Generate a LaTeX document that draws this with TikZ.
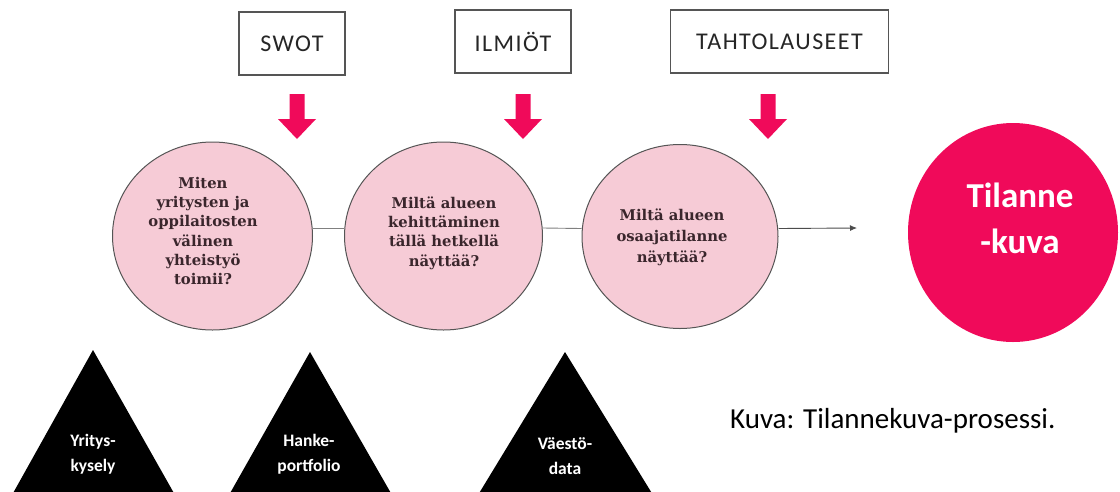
\documentclass[tikz,border=0pt]{standalone}
\usepackage{fontspec}
\setmainfont{DejaVu Serif}
\newfontfamily\calfont{Carlito}
\newfontfamily\calspfont{Carlito}[LetterSpace=6]
\usetikzlibrary{shapes.geometric,arrows.meta}
\definecolor{hotpink}{RGB}{240,10,90}
\definecolor{lightpink}{RGB}{246,203,214}
\definecolor{qtext}{RGB}{58,38,44}
\definecolor{rimgray}{RGB}{85,85,85}
\definecolor{linegray}{RGB}{128,128,128}
\tikzset{
  topbox/.style={draw=rimgray, line width=1.3pt, fill=white, inner sep=0pt,
    font=\calspfont\fontsize{24}{28}\selectfont, text=black!85},
  qcircle/.style={ellipse, draw=rimgray, line width=1pt, fill=lightpink, inner sep=0pt},
  qtextstyle/.style={align=center, text=qtext, inner sep=0pt,
    font=\bfseries\fontsize{14.8}{19.3}\selectfont},
  tritext/.style={align=center, text=white, inner sep=0pt,
    font=\calfont\bfseries\fontsize{17.5}{25}\selectfont},
  tri/.style={fill=black},
  link/.style={draw=linegray, line width=0.9pt},
  pinkarrow/.pic={\fill[hotpink] (-7.5,0) -- (7.5,0) -- (7.5,25) -- (19,25) -- (0,45) -- (-19,25) -- (-7.5,25) -- cycle;}
}
\begin{document}
\begin{tikzpicture}[x=1pt,y=-1pt]
\useasboundingbox[fill=white] (0,0) rectangle (1120,491);

% top boxes
\node[topbox, minimum width=106pt, minimum height=63pt] (swot) at (292,43.5) {SWOT};
\node[topbox, minimum width=116pt, minimum height=63pt] (ilmiot) at (513,41.5) {ILMIÖT};
\node[topbox, minimum width=218pt, minimum height=63pt] (tahto) at (779.5,41.5) {TAHTOLAUSEET};

% pink block arrows
\pic at (297,94) {pinkarrow};
\pic at (523,94) {pinkarrow};
\pic at (768,94) {pinkarrow};

% circles
\node[qcircle, minimum width=200pt, minimum height=188pt] (c1) at (212.5,236) {};
\node[qcircle, minimum width=198pt, minimum height=188pt] (c2) at (443.5,236) {};
\node[qcircle, minimum width=196pt, minimum height=184pt] (c3) at (680,236.5) {};
\node[ellipse, fill=hotpink, inner sep=0pt, minimum width=210pt, minimum height=219pt] (c4) at (1013,232.5) {};

% connectors
\draw[link] ([yshift=8pt]c1.east) -- ([yshift=8pt]c2.west);
\draw[link] ([yshift=8pt]c2.east) -- ([yshift=8pt]c3.west);
\coordinate (arrowend) at (857,228);
\draw[link, draw=black!70, -{Latex[length=7pt,width=6pt]}] ([yshift=8pt]c3.east) -- (arrowend);

% circle texts
\node[qtextstyle] (t1) at (203,231) {Miten\\yritysten ja\\oppilaitosten\\välinen\\yhteistyö\\toimii?};
\node[qtextstyle] (t2) at (444,233) {Miltä alueen\\kehittäminen\\tällä hetkellä\\näyttää?};
\node[qtextstyle, font=\bfseries\fontsize{14.8}{21}\selectfont] (t3) at (672,237) {Miltä alueen\\osaajatilanne\\näyttää?};
\node[align=center, text=white, inner sep=0pt, font=\calfont\bfseries\fontsize{35}{46}\selectfont] (t4) at (1020,218.5) {Tilanne\\-kuva};

% triangles
\fill[tri] (93,350) -- (175,495) -- (12,495) -- cycle;
\fill[tri] (310,352) -- (392,495) -- (229,495) -- cycle;
\fill[tri] (565,352) -- (653,495) -- (478,495) -- cycle;
\node[tritext] (y1) at (93,454) {Yritys-\\kysely};
\node[tritext] (y2) at (309,454) {Hanke-\\portfolio};
\node[tritext] (y3) at (565,456) {Väestö-\\data};

% caption
\node[anchor=base west, inner sep=0pt, font=\calfont\fontsize{29}{34}\selectfont] (cap) at (730,428) {Kuva: Tilannekuva-prosessi.};
\end{tikzpicture}
\end{document}
